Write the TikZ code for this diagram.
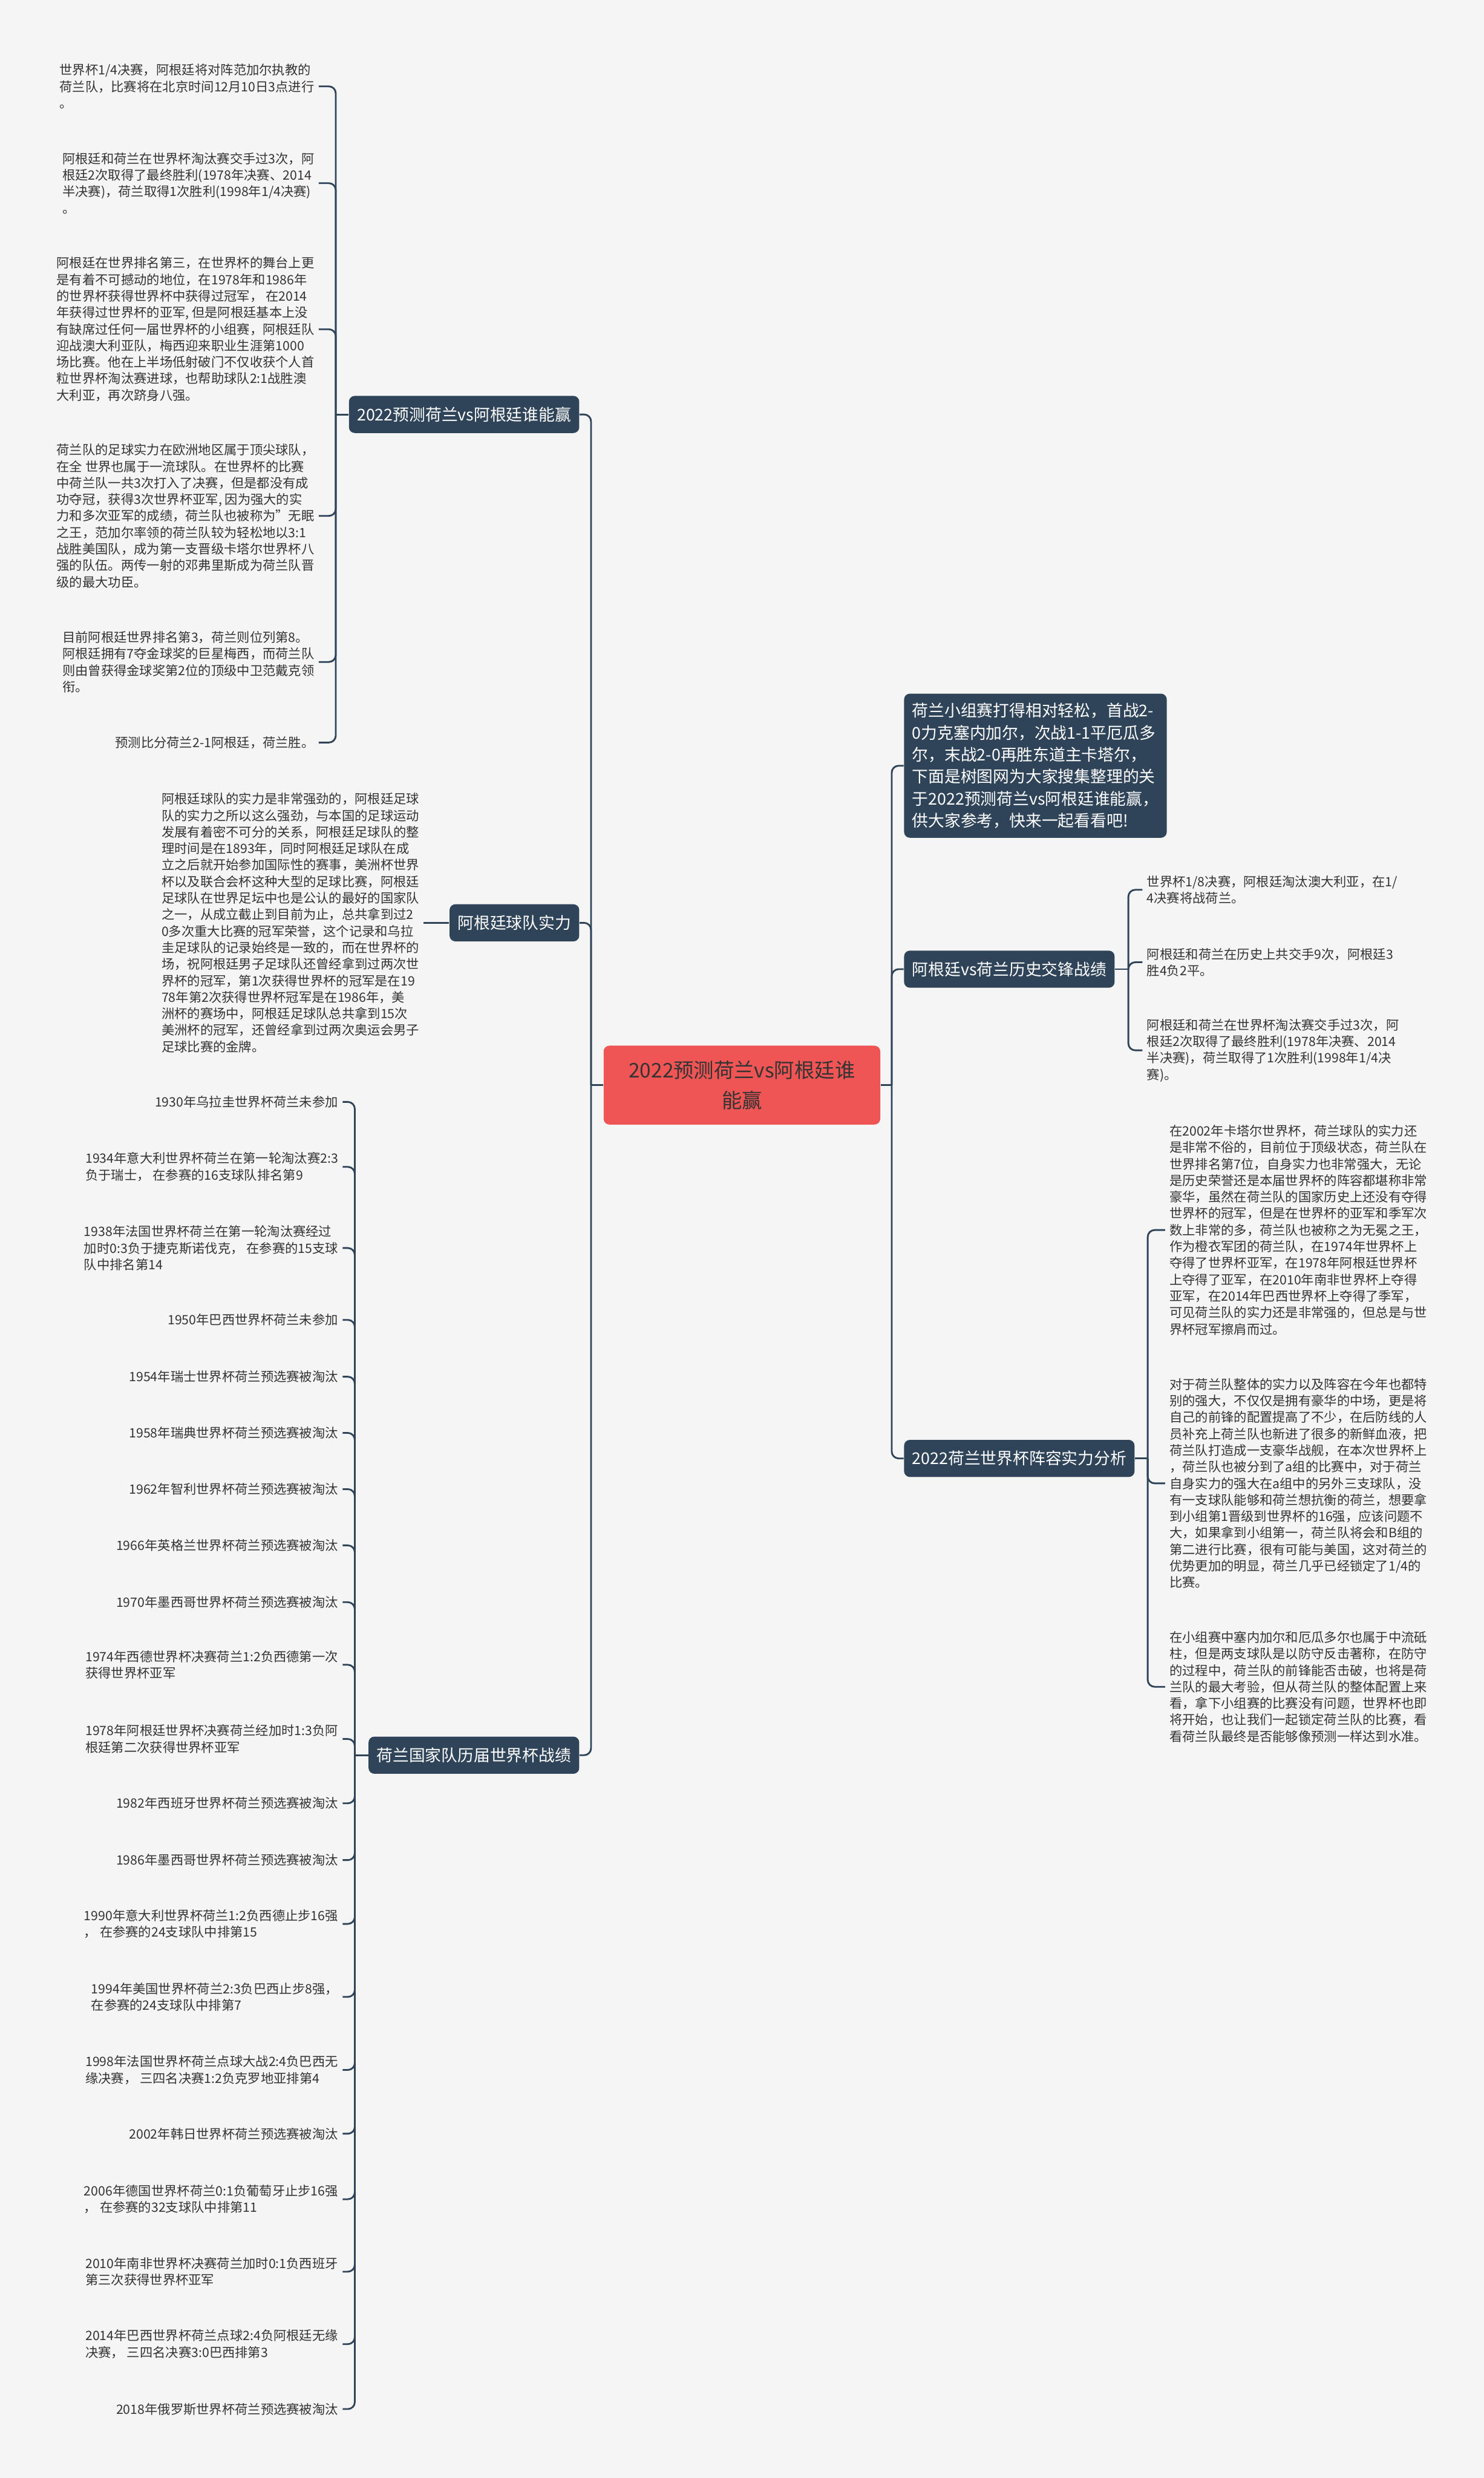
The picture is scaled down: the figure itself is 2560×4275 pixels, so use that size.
\documentclass[tikz,border=0pt]{standalone}
\usepackage{fontspec}
\setmainfont{Noto Sans CJK SC}
\usepackage{xcolor}
\usepackage{tikz}
\usetikzlibrary{calc}
\definecolor{bgcol}{HTML}{F5F5F5}
\definecolor{navy}{HTML}{2F4459}
\definecolor{rootred}{HTML}{EF5555}
\definecolor{inkcol}{HTML}{333333}
\tikzstyle{rootbox} = [fill=rootred, text=inkcol, rounded corners=1mm, minimum width=4.77cm, minimum height=1.36cm, align=center, font=\fontsize{9.9pt}{14.8pt}\selectfont]
\tikzstyle{branchbox} = [fill=navy, text=white, rounded corners=1mm, minimum height=0.64cm, inner xsep=0.14cm, font=\fontsize{7.95pt}{10.8pt}\selectfont]
\tikzstyle{leafl} = [anchor=east, align=left, text=inkcol, inner xsep=0.07cm, inner ysep=0pt, font=\fontsize{6.32pt}{8.1pt}\selectfont]
\tikzstyle{leafr} = [leafl, anchor=west]
\tikzstyle{link} = [draw=navy, line width=0.85pt, rounded corners=1.2mm]

\begin{document}
\begin{tikzpicture}
    [x=0.01cm, y=-0.01cm]
      \useasboundingbox (0,0) rectangle (2560,4275);
      \fill[bgcol] (0,0) rectangle (2560,4275);

      \node [rootbox](root) at (1280,1872) {2022预测荷兰vs阿根廷谁\\能赢};

      % left branches
      \node [branchbox, anchor=east](bpredict) at (1000,715) {2022预测荷兰vs阿根廷谁能赢};
      \node [branchbox, anchor=east](bstrength) at (1000,1592) {阿根廷球队实力};
      \node [branchbox, anchor=east](bhistory) at (1000,3028) {荷兰国家队历届世界杯战绩};

      \node [leafl](p1) at (550,149) {世界杯1/4决赛，阿根廷将对阵范加尔执教的\\荷兰队，比赛将在北京时间12月10日3点进行\\。};
      \node [leafl](p2) at (550,316) {阿根廷和荷兰在世界杯淘汰赛交手过3次，阿\\根廷2次取得了最终胜利(1978年决赛、2014\\半决赛)，荷兰取得1次胜利(1998年1/4决赛)\\。};
      \node [leafl](p3) at (550,568) {阿根廷在世界排名第三，在世界杯的舞台上更\\是有着不可撼动的地位，在1978年和1986年\\的世界杯获得世界杯中获得过冠军， 在2014\\年获得过世界杯的亚军, 但是阿根廷基本上没\\有缺席过任何一届世界杯的小组赛，阿根廷队\\迎战澳大利亚队，梅西迎来职业生涯第1000\\场比赛。他在上半场低射破门不仅收获个人首\\粒世界杯淘汰赛进球，也帮助球队2:1战胜澳\\大利亚，再次跻身八强。};
      \node [leafl](p4) at (550,890) {荷兰队的足球实力在欧洲地区属于顶尖球队，\\在全 世界也属于一流球队。在世界杯的比赛\\中荷兰队一共3次打入了决赛，但是都没有成\\功夺冠，获得3次世界杯亚军, 因为强大的实\\力和多次亚军的成绩，荷兰队也被称为"无眠\\之王，范加尔率领的荷兰队较为轻松地以3:1\\战胜美国队，成为第一支晋级卡塔尔世界杯八\\强的队伍。两传一射的邓弗里斯成为荷兰队晋\\级的最大功臣。};
      \node [leafl](p5) at (550,1142) {目前阿根廷世界排名第3，荷兰则位列第8。\\阿根廷拥有7夺金球奖的巨星梅西，而荷兰队\\则由曾获得金球奖第2位的顶级中卫范戴克领\\衔。};
      \node [leafl](p6) at (550,1281) {预测比分荷兰2-1阿根廷，荷兰胜。};

      \node [leafl](s1) at (731,1592) {阿根廷球队的实力是非常强劲的，阿根廷足球\\队的实力之所以这么强劲，与本国的足球运动\\发展有着密不可分的关系，阿根廷足球队的整\\理时间是在1893年，同时阿根廷足球队在成\\立之后就开始参加国际性的赛事，美洲杯世界\\杯以及联合会杯这种大型的足球比赛，阿根廷\\足球队在世界足坛中也是公认的最好的国家队\\之一，从成立截止到目前为止，总共拿到过2\\0多次重大比赛的冠军荣誉，这个记录和乌拉\\圭足球队的记录始终是一致的，而在世界杯的\\场，祝阿根廷男子足球队还曾经拿到过两次世\\界杯的冠军，第1次获得世界杯的冠军是在19\\78年第2次获得世界杯冠军是在1986年，美\\洲杯的赛场中，阿根廷足球队总共拿到15次\\美洲杯的冠军，还曾经拿到过两次奥运会男子\\足球比赛的金牌。};

      \node [leafl](h1) at (591,1901) {1930年乌拉圭世界杯荷兰未参加};
      \node [leafl](h2) at (591,2013) {1934年意大利世界杯荷兰在第一轮淘汰赛2:3\\负于瑞士， 在参赛的16支球队排名第9};
      \node [leafl](h3) at (591,2153) {1938年法国世界杯荷兰在第一轮淘汰赛经过\\加时0:3负于捷克斯诺伐克， 在参赛的15支球\\队中排名第14};
      \node [leafl](h4) at (591,2277) {1950年巴西世界杯荷兰未参加};
      \node [leafl](h5) at (591,2375) {1954年瑞士世界杯荷兰预选赛被淘汰};
      \node [leafl](h6) at (591,2472) {1958年瑞典世界杯荷兰预选赛被淘汰};
      \node [leafl](h7) at (591,2569) {1962年智利世界杯荷兰预选赛被淘汰};
      \node [leafl](h8) at (591,2666) {1966年英格兰世界杯荷兰预选赛被淘汰};
      \node [leafl](h9) at (591,2764) {1970年墨西哥世界杯荷兰预选赛被淘汰};
      \node [leafl](h10) at (591,2872) {1974年西德世界杯决赛荷兰1:2负西德第一次\\获得世界杯亚军};
      \node [leafl](h11) at (591,3000) {1978年阿根廷世界杯决赛荷兰经加时1:3负阿\\根廷第二次获得世界杯亚军};
      \node [leafl](h12) at (591,3111) {1982年西班牙世界杯荷兰预选赛被淘汰};
      \node [leafl](h13) at (591,3209) {1986年墨西哥世界杯荷兰预选赛被淘汰};
      \node [leafl](h14) at (591,3319) {1990年意大利世界杯荷兰1:2负西德止步16强\\， 在参赛的24支球队中排第15};
      \node [leafl](h15) at (591,3445) {1994年美国世界杯荷兰2:3负巴西止步8强，\\在参赛的24支球队中排第7};
      \node [leafl](h16) at (591,3571) {1998年法国世界杯荷兰点球大战2:4负巴西无\\缘决赛， 三四名决赛1:2负克罗地亚排第4};
      \node [leafl](h17) at (591,3681) {2002年韩日世界杯荷兰预选赛被淘汰};
      \node [leafl](h18) at (591,3794) {2006年德国世界杯荷兰0:1负葡萄牙止步16强\\， 在参赛的32支球队中排第11};
      \node [leafl](h19) at (591,3919) {2010年南非世界杯决赛荷兰加时0:1负西班牙\\第三次获得世界杯亚军};
      \node [leafl](h20) at (591,4044) {2014年巴西世界杯荷兰点球2:4负阿根廷无缘\\决赛， 三四名决赛3:0巴西排第3};
      \node [leafl](h21) at (591,4156) {2018年俄罗斯世界杯荷兰预选赛被淘汰};

      % right branches
      \node [branchbox, anchor=west, align=left, inner ysep=0.16cm](bintro) at (1559,1321) {荷兰小组赛打得相对轻松，首战2-\\0力克塞内加尔，次战1-1平厄瓜多\\尔，末战2-0再胜东道主卡塔尔，\\下面是树图网为大家搜集整理的关\\于2022预测荷兰vs阿根廷谁能赢，\\供大家参考，快来一起看看吧!};
      \node [branchbox, anchor=west](bvs) at (1559,1672) {阿根廷vs荷兰历史交锋战绩};
      \node [branchbox, anchor=west](blineup) at (1559,2516) {2022荷兰世界杯阵容实力分析};

      \node [leafr](v1) at (1971,1535) {世界杯1/8决赛，阿根廷淘汰澳大利亚，在1/\\4决赛将战荷兰。};
      \node [leafr](v2) at (1971,1660) {阿根廷和荷兰在历史上共交手9次，阿根廷3\\胜4负2平。};
      \node [leafr](v3) at (1971,1812) {阿根廷和荷兰在世界杯淘汰赛交手过3次，阿\\根廷2次取得了最终胜利(1978年决赛、2014\\半决赛)，荷兰取得了1次胜利(1998年1/4决\\赛)。};

      \node [leafr](l1) at (2010,2122) {在2002年卡塔尔世界杯，荷兰球队的实力还\\是非常不俗的，目前位于顶级状态，荷兰队在\\世界排名第7位，自身实力也非常强大，无论\\是历史荣誉还是本届世界杯的阵容都堪称非常\\豪华，虽然在荷兰队的国家历史上还没有夺得\\世界杯的冠军，但是在世界杯的亚军和季军次\\数上非常的多，荷兰队也被称之为无冕之王，\\作为橙衣军团的荷兰队，在1974年世界杯上\\夺得了世界杯亚军，在1978年阿根廷世界杯\\上夺得了亚军，在2010年南非世界杯上夺得\\亚军，在2014年巴西世界杯上夺得了季军，\\可见荷兰队的实力还是非常强的，但总是与世\\界杯冠军擦肩而过。};
      \node [leafr](l2) at (2010,2559) {对于荷兰队整体的实力以及阵容在今年也都特\\别的强大，不仅仅是拥有豪华的中场，更是将\\自己的前锋的配置提高了不少，在后防线的人\\员补充上荷兰队也新进了很多的新鲜血液，把\\荷兰队打造成一支豪华战舰，在本次世界杯上\\，荷兰队也被分到了a组的比赛中，对于荷兰\\自身实力的强大在a组中的另外三支球队，没\\有一支球队能够和荷兰想抗衡的荷兰，想要拿\\到小组第1晋级到世界杯的16强，应该问题不\\大，如果拿到小组第一，荷兰队将会和B组的\\第二进行比赛，很有可能与美国，这对荷兰的\\优势更加的明显，荷兰几乎已经锁定了1/4的\\比赛。};
      \node [leafr](l3) at (2010,2910) {在小组赛中塞内加尔和厄瓜多尔也属于中流砥\\柱，但是两支球队是以防守反击著称，在防守\\的过程中，荷兰队的前锋能否击破，也将是荷\\兰队的最大考验，但从荷兰队的整体配置上来\\看，拿下小组赛的比赛没有问题，世界杯也即\\将开始，也让我们一起锁定荷兰队的比赛，看\\看荷兰队最终是否能够像预测一样达到水准。};

      % connectors
      \draw[link] (root.west) -- ++(-21,0) coordinate (lj);
      \foreach \to in {bpredict,bstrength,bhistory}
        \draw[link] (lj) |- (\to.east);
      \draw[link] (bpredict.west) -- ++(-22,0) coordinate (pj);
      \foreach \i in {1,...,6}
        \draw[link] (pj) |- (p\i.east);
      \draw[link] (bstrength.west) -- (s1.east);
      \draw[link] (bhistory.west) -- ++(-23,0) coordinate (hj);
      \foreach \i in {1,...,21}
        \draw[link] (hj) |- (h\i.east);

      \draw[link] (root.east) -- ++(19,0) coordinate (rj);
      \foreach \to in {bintro,bvs,blineup}
        \draw[link] (rj) |- (\to.west);
      \draw[link] (bvs.east) -- ++(23,0) coordinate (vj);
      \foreach \i in {1,2,3}
        \draw[link] (vj) |- (v\i.west);
      \draw[link] (blineup.east) -- ++(22,0) coordinate (mj);
      \foreach \i in {1,2,3}
        \draw[link] (mj) |- (l\i.west);

    \end{tikzpicture}
\end{document}
